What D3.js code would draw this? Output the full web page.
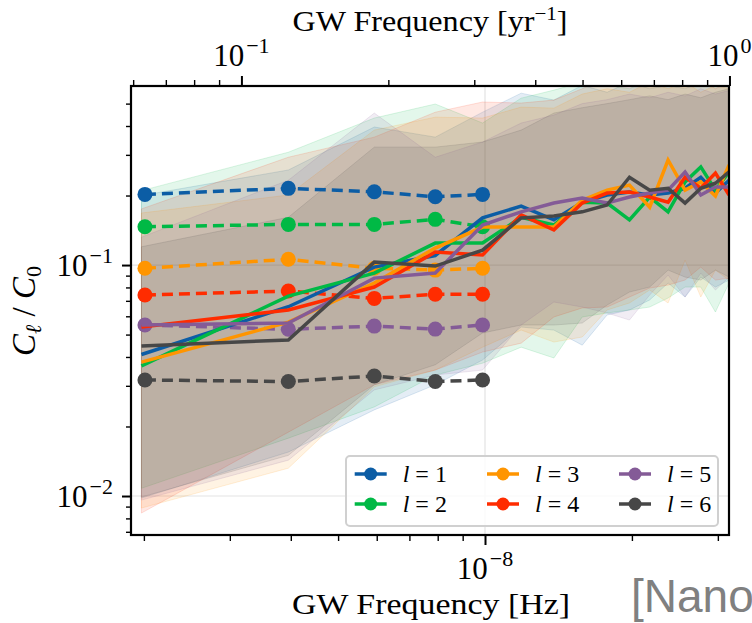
<!DOCTYPE html>
<html>
<head>
<meta charset="utf-8">
<script src="https://cdn.jsdelivr.net/npm/d3@7/dist/d3.min.js"></script>
<style>
  body { margin: 0; background: #fff; }
  svg { display: block; font-family: "Liberation Serif", serif; }
</style>
</head>
<body>
<script>
// frequencies of the solid curves (Hz) and of the dashed reference points
var freqs = [1.977e-9, 3.954e-9, 5.931e-9, 7.908e-9, 9.885e-9, 1.186e-8, 1.384e-8, 1.582e-8,
             1.779e-8, 1.977e-8, 2.175e-8, 2.372e-8, 2.570e-8, 2.768e-8, 2.966e-8, 3.163e-8];
var dashFreqs = [2.01e-9, 3.954e-9, 5.931e-9, 7.908e-9, 9.885e-9];

var ells = [1, 2, 3, 4, 5, 6];
var colors = ["#0C5DA5", "#00B945", "#FF9500", "#FF2C00", "#845B97", "#474747"];

// median C_l/C_0 per frequency bin
var med1 = [0.041, 0.066, 0.098, 0.110, 0.160, 0.180, 0.157, 0.187, 0.201, 0.207, 0.201, 0.205, 0.215, 0.240, 0.205, 0.233];
var med2 = [0.0366, 0.0734, 0.0923, 0.1245, 0.1245, 0.161, 0.149, 0.187, 0.1855, 0.157, 0.197, 0.170, 0.229, 0.266, 0.211, 0.253];
var med3 = [0.038, 0.0566, 0.0836, 0.1185, 0.146, 0.146, 0.146, 0.191, 0.211, 0.222, 0.178, 0.285, 0.211, 0.229, 0.199, 0.271];
var med4 = [0.0539, 0.0639, 0.0803, 0.1138, 0.1105, 0.165, 0.142, 0.1855, 0.205, 0.207, 0.197, 0.187, 0.240, 0.215, 0.250, 0.201];
var med5 = [0.055, 0.0561, 0.0878, 0.0923, 0.149, 0.170, 0.1855, 0.195, 0.1855, 0.197, 0.205, 0.211, 0.253, 0.201, 0.218, 0.218];
var med6 = [0.0446, 0.0474, 0.103, 0.099, 0.116, 0.160, 0.163, 0.170, 0.182, 0.240, 0.211, 0.215, 0.1855, 0.215, 0.226, 0.253];

// lower edge of the shaded bands
var lo1 = [0.0098, 0.0155, 0.0236, 0.0303, 0.0388, 0.0539, 0.0523, 0.045, 0.0608, 0.0639, 0.0706, 0.0836, 0.0727, 0.0887, 0.0803, 0.0861];
var lo2 = [0.0108, 0.0178, 0.0243, 0.0334, 0.0376, 0.0441, 0.0396, 0.0596, 0.062, 0.0639, 0.0658, 0.072, 0.0803, 0.0803, 0.0626, 0.0836];
var lo3 = [0.00887, 0.0132, 0.0297, 0.0351, 0.0441, 0.0523, 0.0464, 0.0488, 0.0639, 0.0685, 0.078, 0.0685, 0.105, 0.0727, 0.0951, 0.0861];
var lo4 = [0.00844, 0.0189, 0.0303, 0.0351, 0.042, 0.0459, 0.0596, 0.0652, 0.0658, 0.0727, 0.0795, 0.0819, 0.0861, 0.098, 0.0861, 0.0878];
var lo5 = [0.0096, 0.0143, 0.0288, 0.0334, 0.0351, 0.055, 0.0692, 0.0658, 0.062, 0.0578, 0.0742, 0.0905, 0.0727, 0.0923, 0.078, 0.0887];
var lo6 = [0.0099, 0.015, 0.0303, 0.037, 0.0508, 0.055, 0.055, 0.0561, 0.0671, 0.0764, 0.0803, 0.0951, 0.0887, 0.0861, 0.0951, 0.0887];

// upper edge of the shaded bands
var hi1 = [0.20, 0.258, 0.396, 0.358, 0.459, 0.555, 0.518, 0.60, 0.56, 0.62, 0.58, 0.60, 0.58, 0.62, 0.66, 0.60];
var hi2 = [0.21, 0.308, 0.433, 0.498, 0.412, 0.528, 0.572, 0.62, 0.60, 0.58, 0.64, 0.60, 0.66, 0.62, 0.60, 0.64];
var hi3 = [0.168, 0.201, 0.384, 0.437, 0.433, 0.483, 0.478, 0.55, 0.58, 0.56, 0.62, 0.58, 0.62, 0.56, 0.60, 0.58];
var hi4 = [0.175, 0.293, 0.358, 0.459, 0.508, 0.503, 0.518, 0.58, 0.65, 0.60, 0.62, 0.66, 0.60, 0.64, 0.58, 0.62];
var hi5 = [0.132, 0.233, 0.455, 0.293, 0.341, 0.412, 0.446, 0.50, 0.52, 0.55, 0.53, 0.56, 0.54, 0.58, 0.55, 0.57];
var hi6 = [0.12, 0.161, 0.324, 0.324, 0.341, 0.384, 0.455, 0.48, 0.50, 0.52, 0.54, 0.52, 0.55, 0.53, 0.56, 0.58];

// dashed reference values (5 lowest bins)
var ref1 = [0.2023, 0.2148, 0.2076, 0.1975, 0.2023];
var ref2 = [0.1465, 0.150, 0.150, 0.1577, 0.1465];
var ref3 = [0.0968, 0.1059, 0.0968, 0.0951, 0.0968];
var ref4 = [0.0742, 0.0772, 0.0717, 0.0747, 0.0747];
var ref5 = [0.055, 0.0527, 0.0544, 0.0528, 0.055];
var ref6 = [0.0318, 0.0313, 0.0331, 0.0313, 0.0318];

var xMajor = [1e-8];
var xMinor = [2e-9, 3e-9, 4e-9, 5e-9, 6e-9, 7e-9, 8e-9, 9e-9, 2e-8, 3e-8];
var topMajor = [0.1, 1];
var topMinor = [0.06, 0.07, 0.08, 0.09, 0.2, 0.3, 0.4, 0.5, 0.6, 0.7, 0.8, 0.9];
var yMajor = [0.01, 0.1];
var yMinor = [0.007, 0.008, 0.009, 0.02, 0.03, 0.04, 0.05, 0.06, 0.07, 0.08, 0.09, 0.2, 0.3, 0.4, 0.5];

var meds = [med1, med2, med3, med4, med5, med6];
var los = [lo1, lo2, lo3, lo4, lo5, lo6];
var his = [hi1, hi2, hi3, hi4, hi5, hi6];
var refs = [ref1, ref2, ref3, ref4, ref5, ref6];

var SEC_PER_YR = 3.15576e7;
var W = 752, H = 623;
var pL = 131, pR = 729, pT = 86, pB = 535;

var svg = d3.select("body").append("svg").attr("width", W).attr("height", H);

var x = d3.scaleLog().domain([1.882e-9, 3.162e-8]).range([pL, pR]);
var xTop = d3.scaleLog().domain([1.882e-9 * SEC_PER_YR, 3.162e-8 * SEC_PER_YR]).range([pL, pR]);
var y = d3.scaleLog().domain([0.00678, 0.596]).range([pB, pT]);

svg.append("clipPath").attr("id", "clip")
  .append("rect").attr("x", pL).attr("y", pT).attr("width", pR - pL).attr("height", pB - pT);

// grid on major ticks
var grid = svg.append("g").attr("stroke", "#e3e3e3").attr("stroke-width", 1.2);
xMajor.forEach(function(v) {
  grid.append("line").attr("x1", x(v)).attr("x2", x(v)).attr("y1", pT).attr("y2", pB);
});
yMajor.forEach(function(v) {
  grid.append("line").attr("x1", pL).attr("x2", pR).attr("y1", y(v)).attr("y2", y(v));
});

var plot = svg.append("g").attr("clip-path", "url(#clip)");

// shaded bands
var area = d3.area()
  .x(function(d) { return x(d.f); })
  .y0(function(d) { return y(d.lo); })
  .y1(function(d) { return y(d.hi); });

ells.forEach(function(l, i) {
  var pts = freqs.map(function(f, k) { return { f: f, lo: los[i][k], hi: his[i][k] }; });
  plot.append("path")
    .attr("d", area(pts))
    .attr("fill", colors[i])
    .attr("fill-opacity", 0.11)
    .attr("stroke", colors[i])
    .attr("stroke-opacity", 0.14)
    .attr("stroke-width", 1);
});

var line = d3.line()
  .x(function(d) { return x(d[0]); })
  .y(function(d) { return y(d[1]); });

// dashed reference values with markers
ells.forEach(function(l, i) {
  var pts = dashFreqs.map(function(f, k) { return [f, refs[i][k]]; });
  plot.append("path")
    .attr("d", line(pts))
    .attr("fill", "none")
    .attr("stroke", colors[i])
    .attr("stroke-width", 3.5)
    .attr("stroke-dasharray", "11,6");
  plot.selectAll(null).data(pts).enter().append("circle")
    .attr("cx", function(d) { return x(d[0]); })
    .attr("cy", function(d) { return y(d[1]); })
    .attr("r", 7.5)
    .attr("fill", colors[i]);
});

// solid medians
ells.forEach(function(l, i) {
  var pts = freqs.map(function(f, k) { return [f, meds[i][k]]; });
  plot.append("path")
    .attr("d", line(pts))
    .attr("fill", "none")
    .attr("stroke", colors[i])
    .attr("stroke-width", 3.5)
    .attr("stroke-linejoin", "miter");
});

// frame
svg.append("rect")
  .attr("x", pL).attr("y", pT).attr("width", pR - pL).attr("height", pB - pT)
  .attr("fill", "none").attr("stroke", "#000").attr("stroke-width", 2.2);

function tickGroup(axis, vals, size, width, transform) {
  var g = svg.append("g").attr("transform", transform)
    .call(axis.tickValues(vals).tickSize(size).tickFormat(""));
  g.select(".domain").remove();
  g.selectAll("line").attr("stroke", "#000").attr("stroke-width", width);
  return g;
}

tickGroup(d3.axisBottom(x), xMinor, 6, 1.4, "translate(0," + pB + ")");
tickGroup(d3.axisBottom(x), xMajor, 10, 2, "translate(0," + pB + ")");
tickGroup(d3.axisTop(xTop), topMinor, 6, 1.4, "translate(0," + pT + ")");
tickGroup(d3.axisTop(xTop), topMajor, 10, 2, "translate(0," + pT + ")");
tickGroup(d3.axisLeft(y), yMinor, 5, 1.4, "translate(" + pL + ",0)");
tickGroup(d3.axisLeft(y), yMajor, 9, 2, "translate(" + pL + ",0)");

// power-of-ten label
function powLabel(px, py, exp, anchor) {
  var t = svg.append("text").attr("x", px).attr("y", py)
    .attr("text-anchor", anchor).attr("font-size", 31).attr("fill", "#000");
  t.append("tspan").text("10");
  t.append("tspan").attr("dx", 2).attr("dy", -13).attr("font-size", 22).text(exp);
  return t;
}

powLabel(x(1e-8), 579, "\u22128", "middle");
powLabel(xTop(0.1), 66, "\u22121", "middle");
powLabel(xTop(1), 66, "0", "middle");
powLabel(113, y(0.1) + 11, "\u22121", "end");
powLabel(113, y(0.01) + 11, "\u22122", "end");

// axis titles
svg.append("text").attr("x", 431).attr("y", 614).attr("text-anchor", "middle")
  .attr("font-size", 29).attr("textLength", 278).attr("lengthAdjust", "spacingAndGlyphs")
  .text("GW Frequency [Hz]");

var tt = svg.append("text").attr("x", 430).attr("y", 31).attr("text-anchor", "middle")
  .attr("font-size", 29).attr("textLength", 275).attr("lengthAdjust", "spacingAndGlyphs");
tt.append("tspan").text("GW Frequency [yr");
tt.append("tspan").attr("dy", -11).attr("font-size", 19).text("\u22121");
tt.append("tspan").attr("dy", 11).text("]");

var yl = svg.append("text").attr("transform", "translate(35,311) rotate(-90)")
  .attr("text-anchor", "middle").attr("font-size", 33);
yl.append("tspan").attr("font-style", "italic").text("C");
yl.append("tspan").attr("dy", 6).attr("font-size", 22).attr("font-style", "italic").text("\u2113");
yl.append("tspan").attr("dy", -6).text(" / ");
yl.append("tspan").attr("font-style", "italic").text("C");
yl.append("tspan").attr("dy", 6).attr("font-size", 22).text("0");

// legend
var leg = svg.append("g");
leg.append("rect").attr("x", 346).attr("y", 456).attr("width", 372).attr("height", 70)
  .attr("rx", 4).attr("fill", "#fff").attr("fill-opacity", 0.8)
  .attr("stroke", "#d0d0d0").attr("stroke-width", 2);

var colX = [370.7, 503, 635];
var rowY = [474, 504];
ells.forEach(function(l, i) {
  var cx = colX[Math.floor(i / 2)], cy = rowY[i % 2];
  var item = leg.append("g");
  item.append("line").attr("x1", cx - 16).attr("x2", cx + 16).attr("y1", cy).attr("y2", cy)
    .attr("stroke", colors[i]).attr("stroke-width", 3.5);
  item.append("circle").attr("cx", cx).attr("cy", cy).attr("r", 6.5).attr("fill", colors[i]);
  var t = item.append("text").attr("x", cx + 32).attr("y", cy + 8).attr("font-size", 24);
  t.append("tspan").attr("font-style", "italic").text("l");
  t.append("tspan").text(" = " + l);
});

// source tag, cut by the page edge
svg.append("text").attr("x", 631).attr("y", 612)
  .attr("font-family", "Liberation Sans, Arial, sans-serif")
  .attr("font-size", 46).attr("fill", "#808080")
  .text("[NanoGrav]");
</script>
</body>
</html>
